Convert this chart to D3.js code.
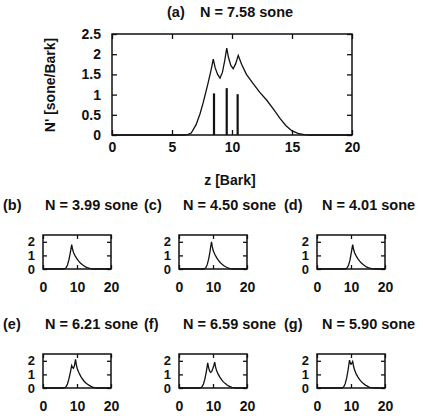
<!DOCTYPE html>
<html lang="en">
<head>
<meta charset="UTF-8">
<title>Specific loudness patterns</title>
<script src="https://d3js.org/d3.v7.min.js"></script>
<style>
  body { margin: 0; background: #fff; }
  text { font-family: "Liberation Sans", Arial, sans-serif; font-weight: bold; fill: #111; }
</style>
</head>
<body>
<div id="chart"></div>
<script>
// (a) all three tones together: specific loudness curve
const zMain = [0, 6.0, 6.3, 6.6, 7.0, 7.33, 7.6, 8.0, 8.25, 8.44, 8.6, 8.8, 9.0, 9.2, 9.4, 9.56, 9.7, 9.9, 10.1, 10.3, 10.52,
  10.8, 11.2, 11.75, 12.3, 12.9, 13.5, 14.0, 14.5, 15.0, 15.5, 16.0, 16.5, 20];
const nMain = [0, 0, 0.01, 0.05, 0.25, 0.52, 0.8, 1.28, 1.6, 1.88, 1.66, 1.5, 1.41, 1.55, 1.85, 2.15, 1.93, 1.72, 1.64, 1.76, 1.97,
  1.75, 1.5, 1.28, 1.06, 0.86, 0.62, 0.41, 0.23, 0.1, 0.04, 0.01, 0, 0];
// tone positions and levels (vertical bars)
const toneZ = [8.5, 9.56, 10.47];
const toneN = [1.03, 1.16, 1.01];

// (b) tone 1 alone
const zB = [0, 6.0, 6.4, 6.8, 7.2, 7.6, 8.0, 8.2, 8.44, 8.7, 9.0, 9.5, 10, 10.5, 11, 11.5, 12, 12.5, 13, 13.5, 14, 14.5, 15, 20];
const nB = [0, 0, 0.02, 0.1, 0.3, 0.65, 1.15, 1.45, 1.8, 1.45, 1.2, 0.95, 0.75, 0.58, 0.44, 0.33, 0.24, 0.16, 0.1, 0.06, 0.03, 0.01, 0, 0];
// (c) tone 2 alone
const zC = [0, 7.1, 7.5, 7.9, 8.3, 8.7, 9.1, 9.3, 9.56, 9.8, 10.1, 10.6, 11.1, 11.6, 12.1, 12.6, 13.1, 13.6, 14.1, 14.6, 15.1, 15.6, 16.1, 20];
const nC = [0, 0, 0.02, 0.1, 0.32, 0.7, 1.25, 1.6, 2.0, 1.62, 1.32, 1.05, 0.82, 0.63, 0.48, 0.36, 0.26, 0.18, 0.11, 0.06, 0.03, 0.01, 0, 0];
// (d) tone 3 alone
const zD = [0, 8.1, 8.5, 8.9, 9.3, 9.7, 10.05, 10.25, 10.5, 10.75, 11.05, 11.55, 12.05, 12.55, 13.05, 13.55, 14.05, 14.55, 15.05, 15.55, 16.05, 16.55, 17.05, 20];
const nD = [0, 0, 0.02, 0.1, 0.3, 0.65, 1.15, 1.45, 1.8, 1.45, 1.2, 0.95, 0.75, 0.58, 0.44, 0.33, 0.24, 0.16, 0.1, 0.06, 0.03, 0.01, 0, 0];
// (e) tones 1 + 2
const zE = [0, 6.0, 6.4, 6.8, 7.2, 7.6, 8.0, 8.2, 8.44, 8.7, 8.95, 9.2, 9.4, 9.56, 9.8, 10.1, 10.6, 11.1, 11.6, 12.1, 12.6, 13.1, 13.6, 14.1, 14.6, 15.1, 15.6, 16.1, 20];
const nE = [0, 0, 0.02, 0.1, 0.3, 0.65, 1.1, 1.35, 1.65, 1.5, 1.45, 1.6, 1.85, 2.1, 1.72, 1.4, 1.1, 0.86, 0.66, 0.5, 0.37, 0.27, 0.19, 0.12, 0.07, 0.03, 0.01, 0, 0];
// (f) tones 1 + 3
const zF = [0, 6.0, 6.4, 6.8, 7.2, 7.6, 8.0, 8.2, 8.44, 8.7, 9.0, 9.3, 9.6, 9.9, 10.2, 10.5, 10.75, 11.05, 11.55, 12.05, 12.55, 13.05, 13.55, 14.05, 14.55, 15.05, 15.55, 16.05, 16.55, 20];
const nF = [0, 0, 0.02, 0.1, 0.3, 0.65, 1.15, 1.45, 1.85, 1.5, 1.25, 1.15, 1.2, 1.4, 1.62, 1.9, 1.55, 1.28, 1.0, 0.78, 0.6, 0.45, 0.34, 0.24, 0.16, 0.1, 0.05, 0.02, 0, 0];
// (g) tones 2 + 3
const zG = [0, 7.1, 7.5, 7.9, 8.3, 8.7, 9.1, 9.3, 9.56, 9.8, 10.0, 10.2, 10.5, 10.75, 11.05, 11.55, 12.05, 12.55, 13.05, 13.55, 14.05, 14.55, 15.05, 15.55, 16.05, 16.55, 17.05, 20];
const nG = [0, 0, 0.02, 0.1, 0.32, 0.7, 1.25, 1.6, 2.05, 1.82, 1.75, 1.8, 1.95, 1.6, 1.32, 1.02, 0.8, 0.62, 0.47, 0.35, 0.25, 0.17, 0.1, 0.05, 0.02, 0.01, 0, 0];

const tags = ["(a)", "(b)", "(c)", "(d)", "(e)", "(f)", "(g)"];
const totals = ["7.58", "3.99", "4.50", "4.01", "6.21", "6.59", "5.90"];
const mainXTicks = [0, 5, 10, 15, 20];
const mainYTicks = [0, 0.5, 1, 1.5, 2, 2.5];
const smallXTicks = [0, 10, 20];
const smallYTicks = [0, 1, 2];

const svg = d3.select("#chart").append("svg")
  .attr("width", 423)
  .attr("height", 419);

// draw one boxed panel with inward ticks on all four sides
function panel(o) {
  const g = svg.append("g").attr("transform", `translate(${o.left},${o.top})`);
  const x = d3.scaleLinear().domain([0, 20]).range([0, o.w]);
  const y = d3.scaleLinear().domain([0, 2.5]).range([o.h, 0]);

  const bottom = g.append("g").attr("transform", `translate(0,${o.h})`)
    .call(d3.axisBottom(x).tickValues(o.xt).tickSize(-o.tl).tickPadding(o.xpad).tickFormat(d => d));
  const top = g.append("g")
    .call(d3.axisTop(x).tickValues(o.xt).tickSize(-o.tl).tickFormat(""));
  const left = g.append("g")
    .call(d3.axisLeft(y).tickValues(o.yt).tickSize(-o.tl).tickPadding(o.ypad).tickFormat(d => d));
  const right = g.append("g").attr("transform", `translate(${o.w},0)`)
    .call(d3.axisRight(y).tickValues(o.yt).tickSize(-o.tl).tickFormat(""));

  [bottom, top, left, right].forEach(a => {
    a.select(".domain").remove();
    a.selectAll("line").attr("stroke", "#111").attr("stroke-width", 1.3);
  });
  bottom.selectAll("text").style("font-size", "14px").attr("fill", "#111");
  left.selectAll("text").style("font-size", o.yfs).attr("fill", "#111");

  g.append("rect")
    .attr("width", o.w).attr("height", o.h)
    .attr("fill", "none").attr("stroke", "#111").attr("stroke-width", 1.5);

  const line = d3.line().x(d => x(d[0])).y(d => y(d[1]));
  g.append("path")
    .datum(d3.zip(o.z, o.n))
    .attr("d", line)
    .attr("fill", "none").attr("stroke", "#111").attr("stroke-width", 1.3);

  return { g, x, y };
}

function title(i, xTag, xN, yBase) {
  svg.append("text").attr("x", xTag).attr("y", yBase).style("font-size", "14.5px").text(tags[i]);
  svg.append("text").attr("x", xN).attr("y", yBase).style("font-size", "14.5px").text(`N = ${totals[i]} sone`);
}

// main panel (a)
const main = panel({ left: 112, top: 34, w: 240, h: 101, xt: mainXTicks, yt: mainYTicks,
  tl: 5, xpad: 7, ypad: 11, yfs: "14px", z: zMain, n: nMain });

main.g.selectAll(".tone")
  .data(d3.zip(toneZ, toneN))
  .enter().append("line")
  .attr("x1", d => main.x(d[0])).attr("x2", d => main.x(d[0]))
  .attr("y1", main.y(0)).attr("y2", d => main.y(d[1]))
  .attr("stroke", "#111").attr("stroke-width", 2.2);

title(0, 167, 200, 17);

svg.append("text")
  .attr("x", 230).attr("y", 185)
  .style("text-anchor", "middle").style("font-size", "14px")
  .text("z [Bark]");

svg.append("text")
  .attr("transform", "rotate(-90)")
  .attr("x", -85).attr("y", 55)
  .style("text-anchor", "middle").style("font-size", "14px")
  .text("N' [sone/Bark]");

// small panels (b)-(g)
const smallZ = [zB, zC, zD, zE, zF, zG];
const smallN = [nB, nC, nD, nE, nF, nG];
const colLeft = [43, 179, 317];
const tagLeft = [3, 144, 284];
const nLeft = [45, 183, 322];
const rowTop = [235, 354];
const titleBase = [210, 329];

smallZ.forEach((z, k) => {
  const row = Math.floor(k / 3), col = k % 3;
  panel({ left: colLeft[col], top: rowTop[row], w: 68, h: 34, xt: smallXTicks, yt: smallYTicks,
    tl: 4, xpad: 13, ypad: 8, yfs: "13px", z: z, n: smallN[k] });
  title(k + 1, tagLeft[col], nLeft[col], titleBase[row]);
});
</script>
</body>
</html>
